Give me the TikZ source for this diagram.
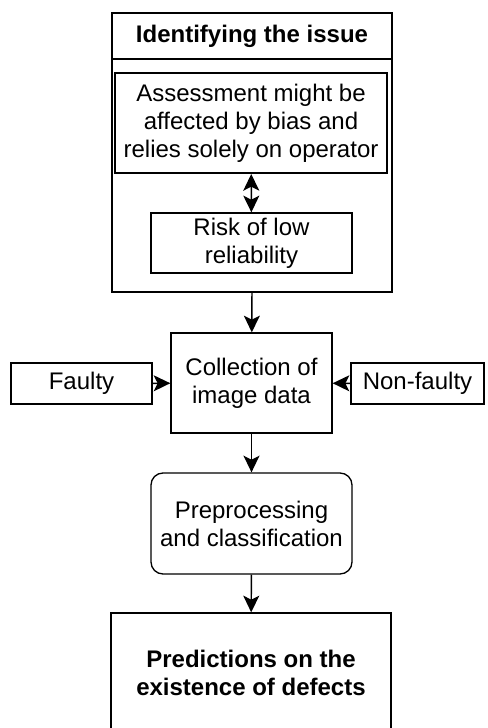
\documentclass[tikz,border=0pt]{standalone}
\usepackage{fontspec}
\setmainfont{Liberation Sans}
\usetikzlibrary{arrows.meta}

\tikzset{
  box/.style={draw, line width=1pt, inner sep=0pt, align=center,
    font=\fontsize{18}{21}\selectfont},
  flow/.style={line width=1.1pt, -{Stealth[length=12.5pt,width=12pt,inset=3pt]}},
}

\begin{document}
\begin{tikzpicture}[x=0.75pt, y=-0.75pt]
      \useasboundingbox (0,0) rectangle (487,728);
      \draw
        (252,36) node[box, minimum width=210pt, minimum height=34.5pt, font=\fontsize{18}{21}\selectfont\bfseries] (title){Identifying the issue}
        (252,175.5) node[box, minimum width=210pt, minimum height=174.75pt] (issue){}
        (251,123) node[box, line width=1.5pt, minimum width=204pt, minimum height=75pt] (assess){Assessment might be\\affected by bias and\\relies solely on operator}
        (251.5,243) node[box, minimum width=150.75pt, minimum height=45pt] (risk){Risk of low\\reliability}
        (251.5,383) node[box, minimum width=120.75pt, minimum height=75pt] (collect){Collection of\\image data}
        (81.5,383.5) node[box, minimum width=105.75pt, minimum height=30.75pt] (faulty){Faulty}
        (417.5,383.5) node[box, minimum width=99.75pt, minimum height=30.75pt] (nonfaulty){Non-faulty}
        (251.5,523.5) node[box, rounded corners=9pt, minimum width=150.75pt, minimum height=75.75pt] (prep){Preprocessing\\and classification}
        (251,673) node[box, minimum width=210pt, minimum height=90pt, font=\fontsize{18}{21}\selectfont\bfseries] (predict){Predictions on the\\existence of defects};
      \begin{scope}[flow]
        \draw[{Stealth[length=12.5pt,width=12pt,inset=3pt]}-{Stealth[length=12.5pt,width=12pt,inset=3pt]}] (assess) to (risk);
        \draw (issue.south) to (collect);
        \draw (faulty) to (collect);
        \draw (nonfaulty) to (collect);
        \draw (collect) to (prep);
        \draw (prep) to (predict);
      \end{scope}
    \end{tikzpicture}
\end{document}
